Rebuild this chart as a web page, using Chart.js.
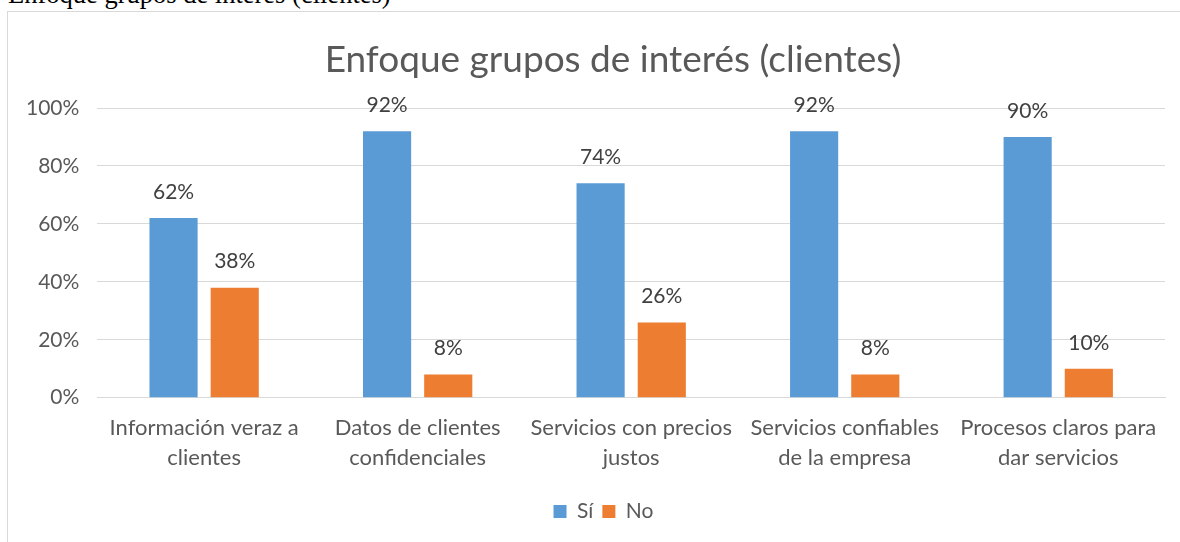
<!DOCTYPE html>
<html>
<head>
	<meta charset="utf-8">
	<title>Enfoque grupos de interés (clientes)</title>
	<script src="https://cdn.jsdelivr.net/npm/chart.js"></script>
	<style>
		body { margin: 0; overflow: hidden; background: #fff; }
		#caption {
			position: absolute; left: 8px; top: -21px;
			font-family: "Liberation Serif", "Times New Roman", serif;
			font-size: 26.5px; color: #000; white-space: nowrap;
		}
		#caja {
			position: absolute; left: 7px; top: 11px;
			width: 1210px; height: 558px;
			border: 1px solid #d9d9d9;
		}
		#titulo {
			position: absolute; left: 0; top: 27px; width: 1210px;
			text-align: center; line-height: 1;
			font-family: Lato, "Open Sans", sans-serif;
			font-size: 37px; color: #595959;
		}
	</style>
</head>
<body>

	<div id="caption">Enfoque grupos de interés (clientes)</div>
	<div id="caja">
		<canvas id="grafico"></canvas>
		<div id="titulo">Enfoque grupos de interés (clientes)</div>
	</div>

	<script>
		// Datos
		var categorias = [
			['Información veraz a', 'clientes'],
			['Datos de clientes', 'confidenciales'],
			['Servicios con precios', 'justos'],
			['Servicios confiables', 'de la empresa'],
			['Procesos claros para', 'dar servicios']
		];
		var valoresSi = [62, 92, 74, 92, 90];
		var valoresNo = [38, 8, 26, 8, 10];
		var marcasY = [0, 20, 40, 60, 80, 100];

		var fuente = 'Lato, "Open Sans", sans-serif';

		// Etiquetas de datos encima de cada barra
		var etiquetas = {
			id: 'etiquetas',
			afterLayout: function (chart) {
				// centrar la leyenda como en el original
				chart.legend.left += 17;
				chart.legend.right += 17;
			},
			afterDatasetsDraw: function (chart) {
				var ctx = chart.ctx;
				ctx.save();
				ctx.font = '21px ' + fuente;
				ctx.fillStyle = '#404040';
				ctx.textAlign = 'center';
				ctx.textBaseline = 'middle';
				chart.data.datasets.forEach(function (ds, i) {
					chart.getDatasetMeta(i).data.forEach(function (bar, j) {
						ctx.fillText(ds.data[j] + '%', bar.x, bar.y - 26);
					});
				});
				ctx.restore();
			}
		};

		var ctx = document.getElementById('grafico').getContext('2d');
		var chart = new Chart(ctx, {
			type: 'bar',
			data: {
				labels: categorias,
				datasets: [{
					label: 'Sí',
					data: valoresSi,
					backgroundColor: '#5B9BD5',
					categoryPercentage: 0.573,
					barPercentage: 0.787
				}, {
					label: 'No',
					data: valoresNo,
					backgroundColor: '#ED7D31',
					categoryPercentage: 0.573,
					barPercentage: 0.787
				}]
			},
			options: {
				responsive: true,
				maintainAspectRatio: false,
				animation: false,
				layout: { padding: { left: 0, right: 53, top: 96, bottom: 38 } },
				plugins: {
					title: { display: false },
					legend: {
						position: 'bottom',
						labels: {
							color: '#595959',
							font: { family: fuente, size: 21 },
							boxWidth: 13,
							boxHeight: 13,
							padding: 9
						}
					},
					tooltip: { enabled: false }
				},
				scales: {
					x: {
						grid: { display: false },
						border: { color: '#d9d9d9', width: 1 },
						ticks: {
							color: '#595959',
							font: { family: fuente, size: 22, lineHeight: 1.37 },
							padding: 7,
							maxRotation: 0
						},
						afterFit: function (s) { s.height += 12; }
					},
					y: {
						min: 0,
						max: 100,
						afterBuildTicks: function (axis) {
							axis.ticks = marcasY.map(function (v) { return { value: v }; });
						},
						grid: { color: '#d9d9d9', drawTicks: false },
						border: { display: false },
						ticks: {
							color: '#595959',
							font: { family: fuente, size: 21 },
							padding: 18,
							callback: function (v) { return v + '%'; }
						}
					}
				}
			},
			plugins: [etiquetas]
		});
	</script>

</body>
</html>
